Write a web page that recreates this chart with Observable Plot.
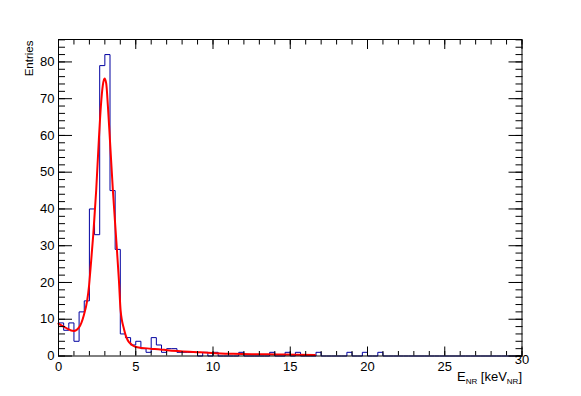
<!DOCTYPE html>
<html><head><meta charset="utf-8">
<script src="https://cdn.jsdelivr.net/npm/d3@7"></script>
<script src="https://cdn.jsdelivr.net/npm/@observablehq/plot@0.6"></script>
<style>html,body{margin:0;padding:0;background:#fff} svg{display:block}</style>
</head><body><div id="chart"></div>
<script>
// Histogram: 90 bins of 1/3 keV from 0 to 30 keV
const binWidth = 1 / 3;
const counts = [
  9, 7, 9, 4, 12, 15, 40, 33, 79, 82,
  45, 29, 6, 5, 3, 4, 2, 1, 5, 3,
  1, 2, 2, 1, 1, 1, 1, 0, 1, 0,
  1, 0, 0, 0, 0, 1, 0, 0, 0, 0,
  0, 1, 0, 0, 1, 0, 1, 0, 0, 0,
  1, 0, 0, 0, 0, 0, 1, 0, 0, 1,
  0, 0, 1, 0, 0, 0, 0, 0, 0, 0,
  0, 0, 0, 0, 0, 0, 0, 0, 0, 0,
  0, 0, 0, 0, 0, 0, 0, 0, 0, 0
];
// Fit curve, points
const fitX = [0.0, 0.45, 1.0, 1.32, 1.64, 1.86, 1.97, 2.08, 2.25, 2.44, 2.61, 2.74, 2.87, 2.98, 3.09, 3.2, 3.33, 3.52, 3.74, 3.91, 4.02, 4.24, 4.56, 5.1, 5.97, 6.6, 7.04, 7.9, 9.2, 10.5, 11.3, 12.5, 14.1, 15.4, 16.6];
const fitY = [8.8, 7.7, 6.8, 7.7, 11.1, 15.2, 18.8, 24.2, 33.0, 45.1, 58.7, 67.8, 73.7, 75.5, 74.1, 67.8, 58.7, 45.1, 31.5, 20.6, 12.4, 7.3, 3.8, 2.4, 2.0, 1.8, 1.55, 1.28, 1.0, 0.7, 0.6, 0.5, 0.42, 0.35, 0.3];
const xMajorTicks = [0, 5, 10, 15, 20, 25, 30];
const xMinorTicks = d3.range(0, 31, 1);
const yMajorTicks = [0, 10, 20, 30, 40, 50, 60, 70, 80];
const yMinorTicks = d3.range(0, 87, 2);
const yMax = 86.1;
const xTitle = "E_NR [keV_NR]";
const yTitle = "Entries";

const steps = counts.map((c, i) => ({x: i * binWidth, y: c}));
steps.push({x: counts.length * binWidth, y: counts[counts.length - 1]});
const fit = fitX.map((x, i) => ({x, y: fitY[i]}));
const lastTick = xMajorTicks[xMajorTicks.length - 1];

const font = "'Liberation Sans', Arial, Helvetica, sans-serif";
const noText = () => "";

const chart = Plot.plot({
  width: 581, height: 396,
  marginLeft: 58, marginRight: 59.5, marginTop: 39, marginBottom: 40.5,
  style: {fontFamily: font, fontSize: "13px", color: "#000", background: "#fff"},
  x: {domain: [0, 30]},
  y: {domain: [0, yMax]},
  marks: [
    Plot.line(steps, {x: "x", y: "y", curve: "step-after", stroke: "#0000a0", strokeWidth: 1}),
    Plot.line(fit, {x: "x", y: "y", curve: "monotone-x", stroke: "#ff0000", strokeWidth: 2}),
    Plot.frame({stroke: "#000", strokeWidth: 1}),
    // ticks inside the frame, all four sides
    Plot.axisX({anchor: "bottom", ticks: xMajorTicks, tickSize: -9, tickFormat: noText, label: null}),
    Plot.axisX({anchor: "bottom", ticks: xMinorTicks, tickSize: -4.5, tickFormat: noText, label: null}),
    Plot.axisX({anchor: "top", ticks: xMajorTicks, tickSize: -9, tickFormat: noText, label: null}),
    Plot.axisX({anchor: "top", ticks: xMinorTicks, tickSize: -4.5, tickFormat: noText, label: null}),
    Plot.axisY({anchor: "left", ticks: yMajorTicks, tickSize: -14, tickFormat: noText, label: null}),
    Plot.axisY({anchor: "left", ticks: yMinorTicks, tickSize: -7, tickFormat: noText, label: null}),
    Plot.axisY({anchor: "right", ticks: yMajorTicks, tickSize: -14, tickFormat: noText, label: null}),
    Plot.axisY({anchor: "right", ticks: yMinorTicks, tickSize: -7, tickFormat: noText, label: null}),
    // labels (the last x label is lifted, as in the reference)
    Plot.axisX({anchor: "bottom", ticks: xMajorTicks.filter(t => t !== lastTick), tickSize: 0, tickPadding: 6, fontSize: 13, label: null}),
    Plot.axisX({anchor: "bottom", ticks: [lastTick], tickSize: 0, tickPadding: -1, fontSize: 13, label: null}),
    Plot.axisY({anchor: "left", ticks: yMajorTicks, tickSize: 0, tickPadding: 4, fontSize: 13, label: null}),
    Plot.text([yTitle], {frameAnchor: "top-left", rotate: -90, textAnchor: "end", dx: -34, dy: 1, fontSize: 11.5}),
    Plot.text([xTitle], {frameAnchor: "bottom-right", textAnchor: "end", dy: 25, fontSize: 13})
  ]
});
document.getElementById("chart").appendChild(chart);

// Rich x title with subscripts
d3.select(chart).selectAll("text").each(function () {
  if (this.textContent === xTitle) {
    const t = d3.select(this);
    t.text(null);
    const parts = [["E", 0, 13], ["NR", 3, 8], [" [keV", -3, 13], ["NR", 3, 8], ["]", -3, 13]];
    for (const [s, dy, fs] of parts) t.append("tspan").attr("dy", dy).attr("font-size", fs).text(s);
  }
});
</script>
</body></html>
